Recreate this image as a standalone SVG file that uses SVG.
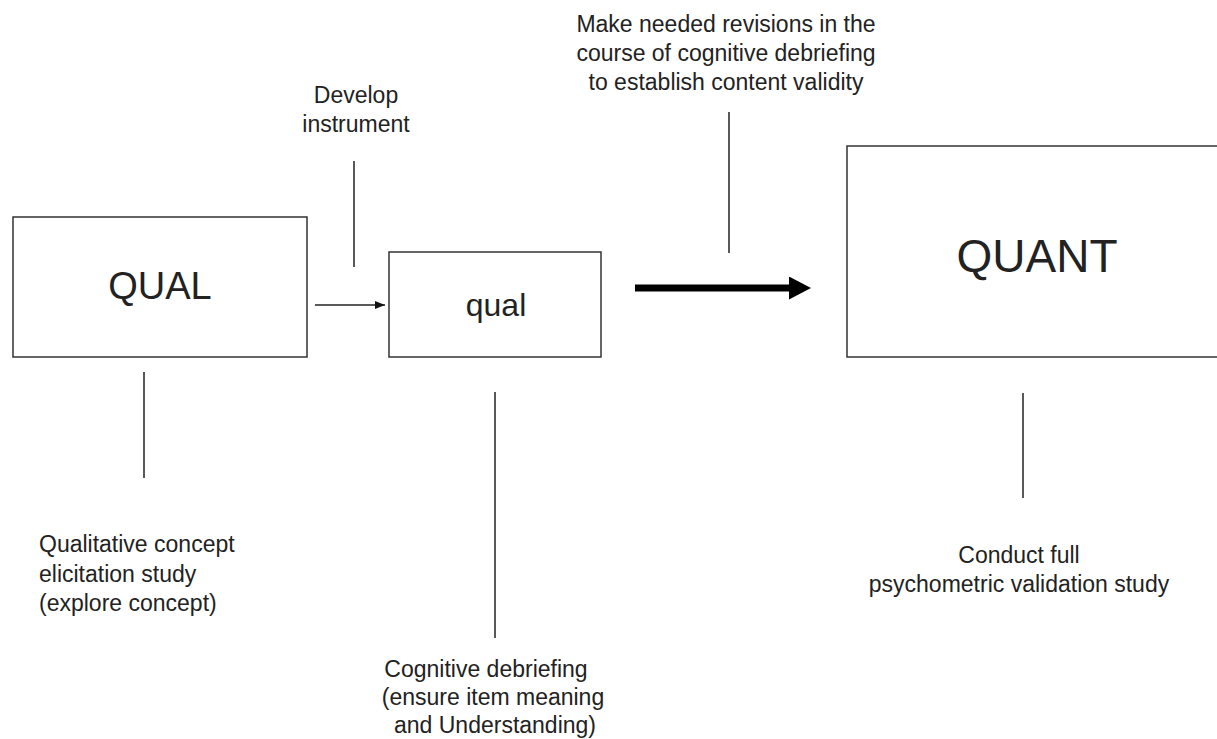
<svg xmlns="http://www.w3.org/2000/svg" width="1217" height="739" viewBox="0 0 1217 739">
<style>
.box{fill:#fff;stroke:#333;stroke-width:1.5}
.ln{stroke:#222;stroke-width:1.5;fill:none}
.t{font-family:"Liberation Sans",Arial,sans-serif;font-size:23px;fill:#222}
.m{text-anchor:middle}
</style>
<defs>
<marker id="small" markerUnits="userSpaceOnUse" markerWidth="12" markerHeight="10" refX="10" refY="4" orient="auto">
<path d="M0,0 L10,4 L0,8 z" fill="#111"/>
</marker>
<marker id="big" markerUnits="userSpaceOnUse" markerWidth="24" markerHeight="24" refX="0" refY="11.5" orient="auto">
<path d="M0,0 L22,11.5 L0,23 z" fill="#000"/>
</marker>
</defs>
<rect width="1217" height="739" fill="#fff"/>
<g id="node-qual-big">
<rect class="box" x="13" y="217" width="294" height="140"/>
<text class="t m" x="160" y="299" style="font-size:38px">QUAL</text>
</g>
<g id="node-qual-small">
<rect class="box" x="389" y="252" width="212" height="105"/>
<text class="t m" x="496" y="316" style="font-size:32px">qual</text>
</g>
<g id="node-quant">
<rect class="box" x="847" y="146" width="375" height="211"/>
<text class="t m" x="1037" y="272" style="font-size:46px">QUANT</text>
</g>
<g id="label-develop">
<text class="t m" x="356" y="103">Develop</text>
<text class="t m" x="356" y="132">instrument</text>
</g>
<g id="label-revisions">
<text class="t m" x="726" y="32">Make needed revisions in the</text>
<text class="t m" x="726" y="61">course of cognitive debriefing</text>
<text class="t m" x="726" y="90">to establish content validity</text>
</g>
<g id="label-qualitative">
<text class="t" x="39" y="552">Qualitative concept</text>
<text class="t" x="39" y="582">elicitation study</text>
<text class="t" x="39" y="611">(explore concept)</text>
</g>
<g id="label-cognitive">
<text class="t m" x="486" y="677">Cognitive debriefing</text>
<text class="t m" x="493" y="705">(ensure item meaning</text>
<text class="t m" x="495" y="733">and Understanding)</text>
</g>
<g id="label-conduct">
<text class="t m" x="1019" y="563">Conduct full</text>
<text class="t m" x="1019" y="592">psychometric validation study</text>
</g>
<g id="connectors">
<line class="ln" x1="315" y1="305" x2="385" y2="305" marker-end="url(#small)"/>
<line x1="635" y1="288" x2="789" y2="288" stroke="#000" stroke-width="7" marker-end="url(#big)"/>
<line class="ln" x1="354" y1="161" x2="354" y2="267"/>
<line class="ln" x1="729" y1="112" x2="729" y2="253"/>
<line class="ln" x1="144" y1="372" x2="144" y2="478"/>
<line class="ln" x1="495" y1="392" x2="495" y2="638"/>
<line class="ln" x1="1023" y1="393" x2="1023" y2="498"/>
</g>
</svg>
